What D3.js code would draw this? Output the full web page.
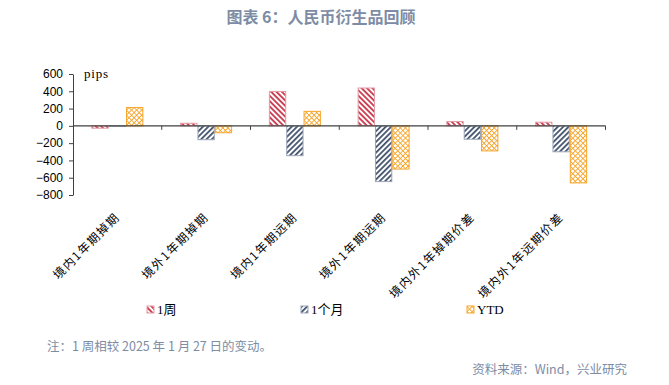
<!DOCTYPE html>
<html>
<head>
<meta charset="utf-8">
<script src="https://cdn.jsdelivr.net/npm/d3@7"></script>
<style>
  body { margin: 0; background: #fff; }
  svg { display: block; }
</style>
</head>
<body>
<svg width="669" height="385"></svg>
<script>
// data
const categories = ['境内1年期掉期', '境外1年期掉期', '境内1年期远期', '境外1年期远期', '境内外1年掉期价差', '境内外1年远期价差'];
const seriesNames = ['1周', '1个月', 'YTD'];
const week = [-27, 30, 398, 438, 50, 42];
const month = [-5, -160, -345, -645, -155, -300];
const ytd = [212, -80, 168, -500, -290, -660];
const yTicks = [600, 400, 200, 0, -200, -400, -600, -800];

const svg = d3.select('svg');
const defs = svg.append('defs');

// hatch patterns
const sp = 3.8;
const p1 = defs.append('pattern').attr('id', 'p-week')
  .attr('patternUnits', 'userSpaceOnUse').attr('width', sp).attr('height', sp)
  .attr('patternTransform', 'rotate(45)');
p1.append('rect').attr('width', sp).attr('height', sp).attr('fill', '#fff');
p1.append('rect').attr('width', sp).attr('height', 1.8).attr('fill', '#c9384c');

const p2 = defs.append('pattern').attr('id', 'p-month')
  .attr('patternUnits', 'userSpaceOnUse').attr('width', sp).attr('height', sp)
  .attr('patternTransform', 'rotate(-45)');
p2.append('rect').attr('width', sp).attr('height', sp).attr('fill', '#fff');
p2.append('rect').attr('width', sp).attr('height', 1.8).attr('fill', '#44546e');

const cs = 3.6;
const p3 = defs.append('pattern').attr('id', 'p-ytd')
  .attr('patternUnits', 'userSpaceOnUse').attr('width', cs).attr('height', cs)
  .attr('patternTransform', 'rotate(45)');
p3.append('rect').attr('width', cs).attr('height', cs).attr('fill', '#fff');
p3.append('rect').attr('width', cs).attr('height', 0.9).attr('fill', '#f7a52c');
p3.append('rect').attr('width', 0.9).attr('height', cs).attr('fill', '#f7a52c');

const fills = ['url(#p-week)', 'url(#p-month)', 'url(#p-ytd)'];
const strokes = ['#e39aa5', '#9aa5b8', '#f7a52c'];

const plotL = 73, plotR = 605.5, plotT = 74, plotB = 195;

const x = d3.scaleBand().domain(categories).range([plotL, plotR]).paddingInner(0).paddingOuter(0);
const x1 = d3.scaleBand().domain(seriesNames).range([0, x.bandwidth()]).paddingOuter(1.06).paddingInner(0);
const y = d3.scaleLinear().domain([-800, 600]).range([plotB, plotT]);

const rows = categories.map((c, i) => ({ cat: c, vals: [week[i], month[i], ytd[i]] }));

const g = svg.append('g');
const groups = g.selectAll('g.cat').data(rows).join('g')
  .attr('class', 'cat')
  .attr('transform', d => `translate(${x(d.cat)},0)`);

groups.selectAll('rect').data(d => d.vals.map((v, k) => ({ v, k })))
  .join('rect')
  .attr('x', d => x1(seriesNames[d.k]) + 0.5)
  .attr('width', x1.bandwidth() - 1)
  .attr('y', d => Math.min(y(d.v), y(0)))
  .attr('height', d => Math.abs(y(d.v) - y(0)))
  .attr('fill', d => fills[d.k])
  .attr('stroke', d => strokes[d.k])
  .attr('stroke-width', 1);

// y axis
const yAxis = svg.append('g').attr('transform', `translate(${plotL},0)`)
  .call(d3.axisLeft(y).tickValues(yTicks).tickSize(4).tickSizeOuter(0));
yAxis.select('.domain').attr('stroke', '#404040');
yAxis.selectAll('.tick line').attr('stroke', '#404040');
yAxis.selectAll('.tick text')
  .attr('font-family', '"Liberation Sans Narrow", "Liberation Sans", Arial, sans-serif')
  .attr('font-size', 12).attr('fill', '#000').attr('x', -10);

// zero line with category ticks
const xAxis = svg.append('g').attr('transform', `translate(0,${y(0)})`);
xAxis.append('line').attr('x1', plotL).attr('x2', plotR).attr('stroke', '#404040').attr('stroke-width', 1.2);
const bounds = categories.map(c => x(c) + x.bandwidth());
xAxis.selectAll('line.t').data(bounds).join('line').attr('class', 't')
  .attr('x1', d => d).attr('x2', d => d).attr('y1', 0).attr('y2', 4)
  .attr('stroke', '#404040');

// category labels, rotated, ending under each group centre
svg.append('g').selectAll('text').data(categories).join('text')
  .attr('transform', d => `translate(${x(d) + x.bandwidth() / 2 + 3},218) rotate(-45)`)
  .attr('text-anchor', 'end')
  .attr('font-family', '"Noto Sans CJK SC", sans-serif')
  .attr('font-size', 12)
  .attr('letter-spacing', 1.3)
  .attr('fill', '#000')
  .text(d => d);

svg.append('text').attr('x', 84).attr('y', 78)
  .attr('font-family', '"Liberation Serif", serif').attr('font-size', 13)
  .attr('letter-spacing', 0.8).text('pips');

// legend
const legendX = [147, 301, 467];
const leg = svg.append('g').selectAll('g').data(seriesNames).join('g')
  .attr('transform', (d, i) => `translate(${legendX[i]},306)`);
leg.append('rect').attr('width', 7).attr('height', 7)
  .attr('fill', (d, i) => fills[i]).attr('stroke', (d, i) => strokes[i]);
leg.append('text').attr('x', 10).attr('y', 8)
  .attr('font-family', '"Liberation Serif", "Noto Sans CJK SC", serif').attr('font-size', 13)
  .text(d => d);

// title and notes
svg.append('text').attr('x', 321).attr('y', 23).attr('text-anchor', 'middle')
  .attr('font-family', '"Noto Sans CJK SC", sans-serif').attr('font-weight', 'bold')
  .attr('font-size', 16).attr('fill', '#7d8ca5').text('图表 6：人民币衍生品回顾');

svg.append('text').attr('x', 47).attr('y', 351)
  .attr('font-family', '"Noto Sans CJK SC", sans-serif').attr('font-size', 12.5)
  .attr('fill', '#7d8ca5').text('注：1 周相较 2025 年 1 月 27 日的变动。');

svg.append('text').attr('x', 627).attr('y', 374).attr('text-anchor', 'end')
  .attr('font-family', '"Noto Sans CJK SC", sans-serif').attr('font-size', 12.5)
  .attr('fill', '#7d8ca5').text('资料来源：Wind，兴业研究');
</script>
</body>
</html>
